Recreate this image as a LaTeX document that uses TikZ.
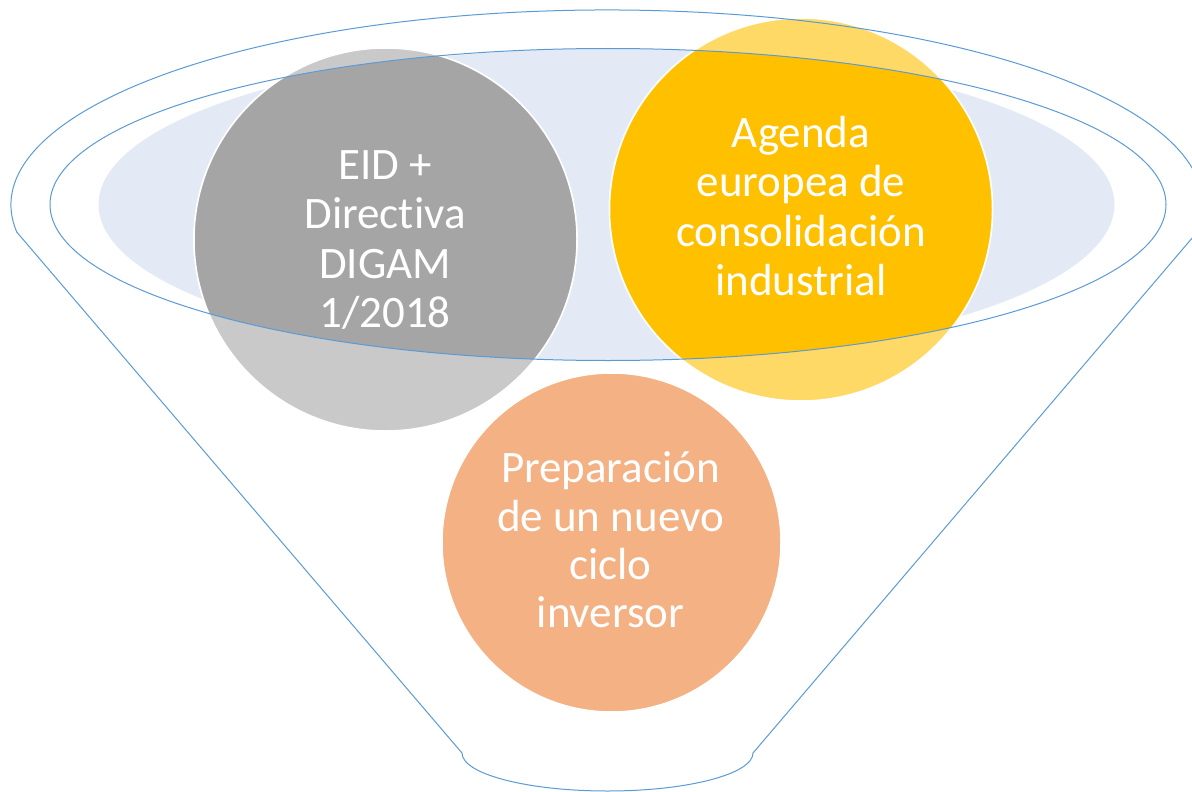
\documentclass[tikz,border=0pt]{standalone}
\usepackage{fontspec}
\setmainfont{Carlito}[Ligatures=NoCommon]
\definecolor{funnelline}{HTML}{5B9BD5}
\definecolor{funnelfill}{HTML}{E4EAF5}
\definecolor{grayfull}{HTML}{A5A5A5}
\definecolor{graylight}{HTML}{C9C9C9}
\definecolor{yellowfull}{HTML}{FFC000}
\definecolor{yellowlight}{HTML}{FFD966}
\definecolor{orangelight}{HTML}{F4B183}
\tikzset{
  outline/.style={draw=funnelline, line width=1pt},
  ball/.style={draw=white, line width=1.5pt},
  label/.style={text=white, align=center, inner sep=0pt, font=\fontsize{45}{49.5}\selectfont},
  labelsmall/.style={label, font=\fontsize{45}{48.3}\selectfont}
}
\begin{document}
\begin{tikzpicture}[x=1pt,y=-1pt]
\clip (0,0) rectangle (1192,792);
\fill[white] (0,0) rectangle (1192,792);
% centres
\coordinate (fc) at (607,205);
\coordinate (ic) at (608,204.5);
\coordinate (bc) at (606.5,204.5);
\coordinate (lc) at (16.8,232.1);
\coordinate (rc) at (1197.2,232.1);
\coordinate (lb) at (462,753);
\coordinate (rb) at (753,753);
\coordinate (cg) at (385.5,239.5);
\coordinate (cy) at (801,209.5);
\coordinate (co) at (611.5,542.5);
% light blue fill ellipse
\fill[funnelfill] (bc) ellipse [x radius=508, y radius=156];
% circles, lighter outside the inner ellipse
\path[ball, fill=graylight] (cg) circle [radius=191.5];
\path[ball, fill=yellowlight] (cy) circle [radius=191.5];
\path[ball, fill=orangelight] (co) circle [radius=169.5];
% full colour inside the inner ellipse
\begin{scope}
  \clip (ic) ellipse [x radius=558, y radius=156];
  \path[ball, fill=grayfull] (cg) circle [radius=191.5];
  \path[ball, fill=yellowfull] (cy) circle [radius=191.5];
\end{scope}
% funnel outlines
\draw[outline] (ic) ellipse [x radius=558, y radius=156];
\draw[outline, line join=round] (lc) arc [start angle=172, end angle=368, x radius=596, y radius=195]
  -- (rb) arc [start angle=0, end angle=180, x radius=145.5, y radius=38] -- cycle;
% texts
\node[label] (tg) at (385,240) {EID +\\Directiva\\DIGAM\\1/2018};
\node[label] (ty) at (801,206) {Agenda\\europea de\\consolidación\\industrial};
\node[labelsmall] (to) at (610.5,540) {Preparación\\de un nuevo\\ciclo\\inversor};
\end{tikzpicture}
\end{document}
